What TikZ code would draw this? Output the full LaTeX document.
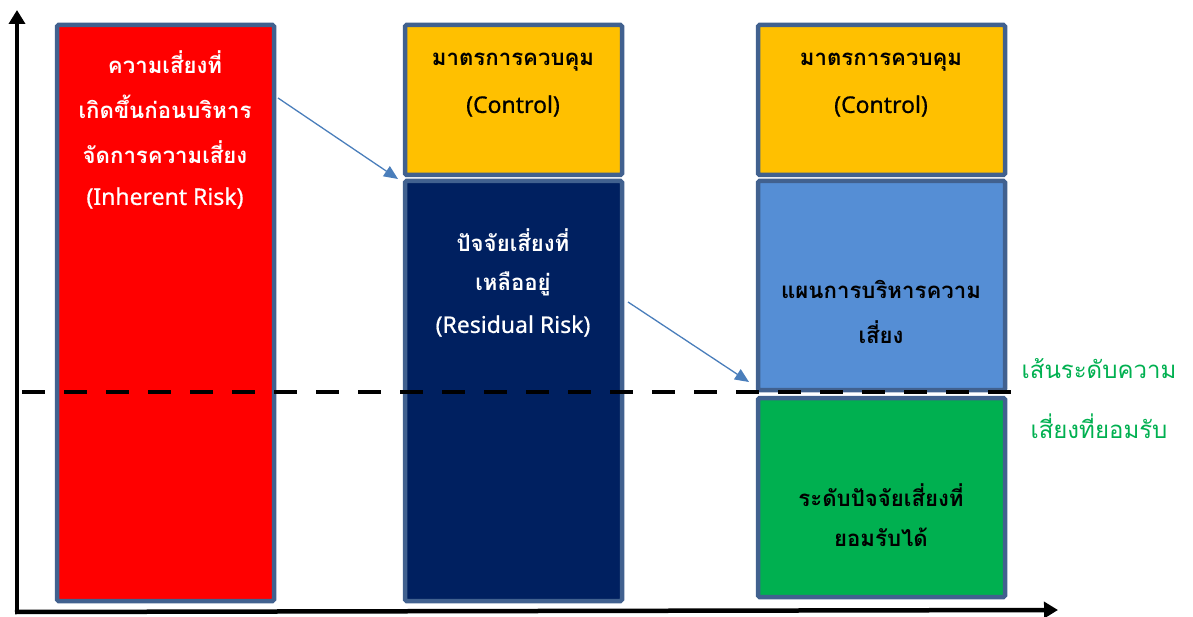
\documentclass[tikz,border=0pt]{standalone}
\usepackage{fontspec}
\newfontfamily\thaifont[Script=Thai]{Loma}
\newfontfamily\latinfont[FakeBold=0.6]{Noto Sans}
\usetikzlibrary{arrows.meta}
\definecolor{bordc}{HTML}{41618F}
\definecolor{redc}{HTML}{FF0000}
\definecolor{yelc}{HTML}{FFC000}
\definecolor{navyc}{HTML}{002060}
\definecolor{bluec}{HTML}{558ED5}
\definecolor{greenc}{HTML}{00B050}
\definecolor{arrc}{HTML}{4A7EBB}
\begin{document}
\begin{tikzpicture}[x=1bp,y=-1bp,
  panel/.style={draw=bordc,line width=4.5bp,rounded corners=1.5bp},
  lbl/.style={font=\thaifont\bfseries\fontsize{22.2bp}{26bp}\selectfont,inner sep=0pt,anchor=center},
  lat/.style={font=\latinfont\fontsize{23bp}{26bp}\selectfont,inner sep=0pt,anchor=center},
  side/.style={font=\thaifont\fontsize{24bp}{28bp}\selectfont,text=greenc,inner sep=0pt,anchor=center},
  axis/.style={line width=4.5bp,-{Triangle[length=14bp,width=16bp]}},
  link/.style={draw=arrc,line width=1.3bp,-{Triangle[length=14bp,width=12bp]}}]
\useasboundingbox (0,0) rectangle (1193,617);
% boxes
\path[panel,fill=redc] (57,25) rectangle (274,601);
\path[panel,fill=yelc] (405,25) rectangle (622,175);
\path[panel,fill=navyc] (405,181) rectangle (622,601);
\path[panel,fill=yelc] (758,25) rectangle (1005,175);
\path[panel,fill=bluec] (758,181) rectangle (1005,390);
\path[panel,fill=greenc] (758,398) rectangle (1005,597);
% axes
\coordinate (ytop) at (17,10);
\coordinate (xend) at (1058,610);
\draw[axis] (17,612) -- (ytop);
\draw[axis] (15,612) -- (xend);
% dashed threshold
\coordinate (d1) at (22,392);
\coordinate (d2) at (1012,392);
\draw[line width=4.5bp,dash pattern=on 23bp off 19bp] (d1) -- (d2);
% texts
\node[lbl,text=white] (r1) at (165,62) {ความเสี่ยงที่};
\node[lbl,text=white] (r2) at (165,107) {เกิดขึ้นก่อนบริหาร};
\node[lbl,text=white] (r3) at (165,152) {จัดการความเสี่ยง};
\node[lat,text=white] (r4) at (165,198) {(Inherent Risk)};
\node[lbl] (c1) at (513,62) {มาตรการควบคุม};
\node[lat] (c2) at (513,106) {(Control)};
\node[lbl,text=white] (n1) at (513,240) {ปัจจัยเสี่ยงที่};
\node[lbl,text=white] (n2) at (513,284) {เหลืออยู่};
\node[lat,text=white] (n3) at (513,326) {(Residual Risk)};
\node[lbl] (k1) at (881,62) {มาตรการควบคุม};
\node[lat] (k2) at (881,106) {(Control)};
\node[lbl] (p1) at (881,289) {แผนการบริหารความ};
\node[lbl] (p2) at (881,332) {เสี่ยง};
\node[lbl] (g1) at (881,495) {ระดับปัจจัยเสี่ยงที่};
\node[lbl] (g2) at (881,537) {ยอมรับได้};
\node[side] (t1) at (1099,369) {เส้นระดับความ};
\node[side] (t2) at (1099,426) {เสี่ยงที่ยอมรับ};
% links
\coordinate (a1s) at (278,98);
\coordinate (a1e) at (398,179);
\coordinate (a2s) at (628,302);
\coordinate (a2e) at (749,382);
\draw[link] (a1s) -- (a1e);
\draw[link] (a2s) -- (a2e);
\end{tikzpicture}
\end{document}
